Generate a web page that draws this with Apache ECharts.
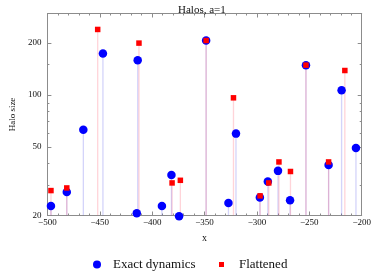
<!DOCTYPE html>
<html>
<head>
<meta charset="utf-8">
<script src="https://cdn.jsdelivr.net/npm/echarts@6/dist/echarts.min.js"></script>
<style>html,body{margin:0;padding:0;background:#fff}#c{width:374px;height:280px}</style>
</head>
<body>
<div id="c"></div>
<script>
// ---- data ----
const exactX = [-496.6, -481.5, -465.7, -447, -414.7, -413.8, -390.7, -381.6, -374.3, -348.5, -327.2, -320, -297.2, -289.6, -279.9, -268.4, -253.2, -231.6, -219.2, -205.5];
const exactY = [22.7, 27.4, 62.8, 174, 20.6, 159, 22.7, 34.4, 19.8, 207, 23.6, 59.7, 25.4, 31.5, 36.3, 24.5, 149, 39.3, 106.7, 49.2];
const flatX = [-496.6, -481.5, -452, -412.6, -381, -373.1, -348.5, -322.4, -297, -288.7, -279, -268, -253.2, -231.6, -216.1];
const flatY = [27.9, 28.9, 240, 200, 30.9, 32, 207, 96.3, 26.0, 30.9, 40.9, 36, 149, 40.9, 138.7];
const yMajor = [20, 50, 100, 200];
const yMinor = [30, 40, 60, 70, 80, 90, 150];
const xMin = -500, xMax = -200, yMin = 20, yMax = 297;

const exactData = exactX.map((x, i) => [x, exactY[i]]);
const flatData = flatX.map((x, i) => [x, flatY[i]]);

const FONT = 'Liberation Serif';
const AX = '#8c8c8c';
const fmtX = v => (v < 0 ? '\u2212' : '') + Math.abs(v);

function stem(color) {
  return function (params, api) {
    const x = api.value(0), y = api.value(1);
    const p0 = api.coord([x, yMin]);
    const p1 = api.coord([x, y]);
    return { type: 'line', shape: { x1: p0[0], y1: p0[1], x2: p1[0], y2: p1[1] },
      style: { stroke: color, lineWidth: 1.3 } };
  };
}

function yAxisDef(pos, ticks, len, showLine, showLabel) {
  return {
    type: 'log', logBase: 10, min: yMin, max: yMax, position: pos,
    axisLine: { show: showLine, lineStyle: { color: AX, width: 1 } },
    axisTick: { show: true, inside: true, length: len, customValues: ticks, lineStyle: { color: AX } },
    axisLabel: { show: showLabel, customValues: yMajor, color: '#111', fontFamily: FONT, fontSize: 9, margin: 6 },
    splitLine: { show: false }, minorTick: { show: false }, minorSplitLine: { show: false }
  };
}

const chart = echarts.init(document.getElementById('c'), null, { renderer: 'canvas' });
chart.setOption({
  animation: false,
  backgroundColor: '#fff',
  title: {
    text: 'Halos, a=1', left: 173, top: 0,
    textStyle: { fontFamily: FONT, fontSize: 11, fontWeight: 'normal', color: '#111' }
  },
  grid: { left: 34, right: 11, top: 13.5, bottom: 64.5 },
  legend: [
    { data: ['Exact dynamics'], left: 88, top: 253, icon: 'circle', itemWidth: 8, itemHeight: 8,
      textStyle: { fontFamily: FONT, fontSize: 13, color: '#111', padding: [0, 0, 0, 7] } },
    { data: ['Flattened'], left: 214, top: 253, icon: 'rect', itemWidth: 5, itemHeight: 5,
      textStyle: { fontFamily: FONT, fontSize: 13, color: '#111', padding: [0, 0, 0, 10] } }
  ],
  xAxis: [
    { type: 'value', min: xMin, max: xMax, interval: 50, position: 'bottom',
      name: 'x', nameLocation: 'middle', nameGap: 18,
      nameTextStyle: { fontFamily: FONT, fontSize: 10, color: '#111' },
      axisLine: { show: true, lineStyle: { color: AX } },
      axisTick: { inside: true, length: 4, lineStyle: { color: AX } },
      minorTick: { show: true, splitNumber: 5, length: 2, lineStyle: { color: AX } },
      axisLabel: { formatter: fmtX, color: '#111', fontFamily: FONT, fontSize: 9, margin: 3 },
      splitLine: { show: false } },
    { type: 'value', min: xMin, max: xMax, interval: 50, position: 'top',
      axisLine: { show: true, lineStyle: { color: AX } },
      axisTick: { inside: true, length: 4, lineStyle: { color: AX } },
      minorTick: { show: true, splitNumber: 5, length: 2, lineStyle: { color: AX } },
      axisLabel: { show: false }, splitLine: { show: false } }
  ],
  yAxis: [
    Object.assign(yAxisDef('left', yMajor, 4, true, true), {
      name: 'Halo size', nameLocation: 'middle', nameGap: 25, nameRotate: 90,
      nameTextStyle: { fontFamily: FONT, fontSize: 9, color: '#111' } }),
    yAxisDef('left', yMinor, 2, false, false),
    yAxisDef('right', yMajor, 4, true, false),
    yAxisDef('right', yMinor, 2, false, false)
  ],
  series: [
    { type: 'custom', name: 'stemExact', data: exactData, xAxisIndex: 0, yAxisIndex: 0,
      renderItem: stem('rgba(60,60,230,0.22)'), z: 1, clip: true, silent: true },
    { type: 'custom', name: 'stemFlat', data: flatData, xAxisIndex: 0, yAxisIndex: 0,
      renderItem: stem('rgba(255,60,80,0.22)'), z: 1, clip: true, silent: true },
    { type: 'scatter', name: 'Exact dynamics', data: exactData, symbol: 'circle', symbolSize: 8.5,
      itemStyle: { color: '#0000ff', opacity: 1 }, z: 2, clip: false },
    { type: 'scatter', name: 'Flattened', data: flatData, symbol: 'rect', symbolSize: 5.5,
      itemStyle: { color: '#ff0000', opacity: 1 }, z: 3, clip: false }
  ]
});
</script>
</body>
</html>
